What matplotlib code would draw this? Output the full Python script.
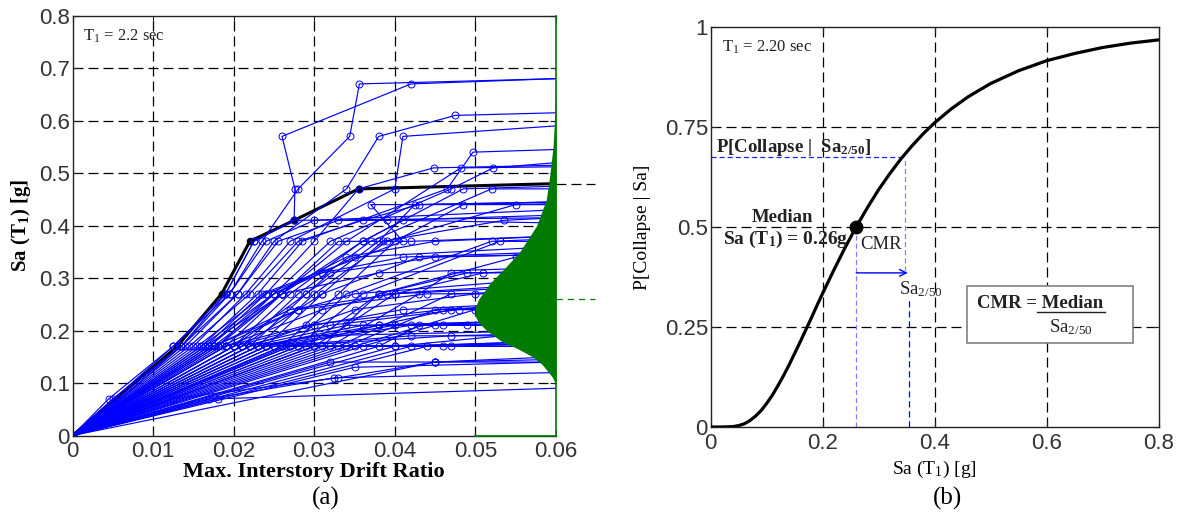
import matplotlib
matplotlib.use('Agg')
import matplotlib.pyplot as plt
import numpy as np

plt.rcParams['mathtext.fontset'] = 'custom'
plt.rcParams['mathtext.rm'] = 'Liberation Serif'
plt.rcParams['mathtext.it'] = 'Liberation Serif:italic'
plt.rcParams['mathtext.bf'] = 'Liberation Serif:bold'

SERIF = 'Liberation Serif'
SANS = 'Liberation Sans'
TICKC = '#333333'

# ---------------- Panel (a): IDA curves ----------------
ida_drift = [
    [0, .0045, .0125, .019, .0225, .0275, .0276, .026, .042, .06],
    [0, .005, .0135, .0195, .0235, .028, .0344, .0356, .06],
    [0, .014, .0205, .025, .034, .038, .0475, .06],
    [0, .015, .0215, .027, .040, .041, .06],
    [0, .016, .023, .0285, .0465, .0497, .06],
    [0, .017, .024, .030, .0355, .0448, .06],
    [0, .018, .025, .032, .047, .0522, .06],
    [0, .019, .026, .034, .0482, .06],
    [0, .020, .027, .036, .0485, .06],
    [0, .021, .028, .037, .052, .06],
    [0, .022, .029, .038, .0425, .06],
    [0, .023, .030, .039, .055, .06],
    [0, .0165, .0235, .041, .037, .06],
    [0, .024, .031, .0385, .0535, .06],
    [0, .006, .0135, .019, .0225, .0275, .06],
    [0, .0175, .026, .036, .041, .06],
    [0, .026, .033, .040, .0485, .06],
    [0, .027, .034, .052, .06],
    [0, .028, .036, .053, .06],
    [0, .020, .029, .032, .045, .06],
    [0, .029, .038, .055, .06],
    [0, .021, .031, .043, .06],
    [0, .030, .040, .051, .06],
    [0, .031, .038, .049, .06],
    [0, .032, .043, .047, .06],
    [0, .022, .035, .050, .06],
    [0, .033, .047, .06],
    [0, .034, .045, .06],
    [0, .035, .050, .06],
    [0, .023, .038, .047, .06],
    [0, .036, .045, .06],
    [0, .024, .040, .06],
    [0, .038, .043, .06],
    [0, .025, .042, .06],
    [0, .040, .06],
    [0, .026, .047, .06],
    [0, .042, .06],
    [0, .030, .06],
    [0, .044, .06],
    [0, .0125, .033, .045, .06],
    [0, .045, .06],
    [0, .017, .0325, .06],
    [0, .018, .06],
    [0, .035, .06],
    [0, .0155, .024, .031, .041, .06],
    [0, .016, .025, .034, .045, .06],
    [0, .0165, .026, .038, .06],
    [0, .0175, .027, .040, .06],
    [0, .0185, .028, .044, .06],
    [0, .019, .029, .046, .06],
    [0, .020, .030, .041, .06],
    [0, .021, .032, .048, .06],
    [0, .022, .034, .046, .06],
    [0, .023, .036, .06],
    [0, .024, .030, .06],
    [0, .025, .042, .06],
    [0, .0265, .040, .06],
    [0, .028, .046, .06],
    [0, .030, .047, .06],
    [0, .032, .045, .06],
    [0, .0145, .022, .028, .036, .043, .06],
    [0, .0135, .0205, .0255, .033, .039, .06],
    [0, .018, .026, .033, .042, .06],
    [0, .017, .025, .031, .035, .06],
    [0, .019, .031, .039, .06],
    [0, .027, .038, .049, .06],
    [0, .0175, .028, .035, .06],
    [0, .0125, .0195, .024, .030, .06],
]
ida_sa = [
    [0, .07, .17, .27, .37, .41, .47, .57, .67, .68],
    [0, .07, .17, .27, .37, .47, .57, .67, .68],
    [0, .17, .27, .37, .47, .57, .61, .615],
    [0, .17, .27, .37, .47, .57, .59],
    [0, .17, .27, .37, .47, .54, .545],
    [0, .17, .27, .37, .47, .51, .515],
    [0, .17, .27, .37, .47, .51, .52],
    [0, .17, .27, .37, .51, .512],
    [0, .17, .27, .37, .47, .475],
    [0, .17, .27, .37, .47, .47],
    [0, .17, .27, .37, .44, .445],
    [0, .17, .27, .37, .44, .442],
    [0, .17, .27, .37, .44, .44],
    [0, .17, .27, .37, .41, .415],
    [0, .07, .17, .27, .37, .41, .415],
    [0, .17, .27, .37, .41, .405],
    [0, .17, .27, .37, .44, .445],
    [0, .17, .27, .37, .375],
    [0, .17, .27, .37, .37],
    [0, .17, .27, .31, .34, .345],
    [0, .17, .27, .34, .342],
    [0, .17, .27, .34, .345],
    [0, .17, .27, .31, .315],
    [0, .17, .27, .31, .312],
    [0, .17, .27, .31, .31],
    [0, .17, .24, .27, .28],
    [0, .17, .27, .275],
    [0, .17, .24, .25],
    [0, .17, .24, .245],
    [0, .17, .21, .24, .24],
    [0, .17, .21, .225],
    [0, .17, .21, .22],
    [0, .17, .21, .215],
    [0, .17, .21, .21],
    [0, .17, .20],
    [0, .17, .19, .195],
    [0, .17, .18],
    [0, .17, .175],
    [0, .17, .17],
    [0, .07, .11, .14, .15],
    [0, .14, .14],
    [0, .07, .11, .12],
    [0, .07, .09],
    [0, .13, .14],
    [0, .17, .27, .31, .34, .35],
    [0, .17, .27, .34, .37, .38],
    [0, .17, .27, .31, .32],
    [0, .17, .24, .27, .285],
    [0, .17, .24, .27, .27],
    [0, .17, .21, .24, .25],
    [0, .17, .21, .24, .255],
    [0, .17, .21, .24, .24],
    [0, .17, .21, .21, .215],
    [0, .17, .21, .22],
    [0, .17, .19, .20],
    [0, .17, .19, .19],
    [0, .17, .17, .18],
    [0, .17, .17, .175],
    [0, .17, .17, .17],
    [0, .14, .14, .145],
    [0, .17, .27, .37, .41, .44, .445],
    [0, .17, .27, .37, .41, .41, .42],
    [0, .17, .27, .37, .37, .38],
    [0, .17, .27, .31, .34, .36],
    [0, .17, .24, .27, .29],
    [0, .17, .21, .21, .22],
    [0, .17, .24, .27, .30],
    [0, .17, .27, .37, .41, .43],
]
median_drift = [0, .013, .0185, .022, .0275, .0355, .06]
median_sa = [0, .17, .27, .37, .41, .47, .48]

# collapse-capacity distribution (drawn leftwards from drift = 0.06)
pdf_sa = [.09, .10, .11, .12, .135, .15, .165, .18, .20, .215, .23, .245, .26,
          .29, .32, .35, .40, .45, .50, .55, .60, .65, .70]
pdf_width = [0, .0001, .0004, .0009, .0017, .0029, .0047, .0068, .0086, .0096,
             .0101, .0100, .0096, .0082, .0063, .0045, .0024, .0012, .00074,
             .00037, .00019, .00006, 0]
pdf_median_sa = 0.26
top_ref_sa = 0.48

a_xticks = [0, .01, .02, .03, .04, .05, .06]
a_xticklabels = ['0', '0.01', '0.02', '0.03', '0.04', '0.05', '0.06']
a_yticks = [0, .1, .2, .3, .4, .5, .6, .7, .8]
a_yticklabels = ['0', '0.1', '0.2', '0.3', '0.4', '0.5', '0.6', '0.7', '0.8']

# ---------------- Panel (b): fragility curve ----------------
frag_sa = [0, .02, .04, .05, .06, .07, .08, .09, .10, .11, .12, .13, .14, .15,
           .16, .17, .18, .19, .20, .22, .24, .26, .28, .30, .32, .34, .36,
           .38, .40, .43, .46, .50, .55, .60, .65, .70, .75, .80]
frag_p = [0, 0, .001, .0035, .008, .016, .027, .041, .059, .079, .103, .128,
          .155, .184, .213, .243, .273, .304, .334, .392, .448, .50, .548,
          .593, .633, .670, .703, .733, .760, .795, .825, .858, .890, .915,
          .933, .948, .959, .967]
sa_median = 0.26
sa_2_50 = 0.347
p_2_50 = 0.674

b_xticks = [0, .2, .4, .6, .8]
b_xticklabels = ['0', '0.2', '0.4', '0.6', '0.8']
b_yticks = [0, .25, .5, .75, 1]
b_yticklabels = ['0', '0.25', '0.5', '0.75', '1']

W, H = 1181, 514
fig = plt.figure(figsize=(W / 100, H / 100), dpi=100)

DASH = (0, (8, 4))

def style_axes(ax, xt, xtl, yt, ytl):
    ax.set_xticks(xt)
    ax.set_xticklabels(xtl)
    ax.set_yticks(yt)
    ax.set_yticklabels(ytl)
    ax.tick_params(direction='in', length=4, width=0.8, top=True, right=True,
                   labelsize=16, labelcolor=TICKC, color='#222222')
    ax.tick_params(axis='x', pad=4)
    ax.tick_params(axis='y', pad=2)
    for lab in ax.get_xticklabels() + ax.get_yticklabels():
        lab.set_fontfamily(SANS)
    for sp in ax.spines.values():
        sp.set_color('#222222')
        sp.set_linewidth(1.0)

# ---------- (a) ----------
axa = fig.add_axes([72.5 / W, 1 - 435.5 / H, (556 - 72.5) / W, (435.5 - 15.7) / H])
axa.set_xlim(0, 0.06)
axa.set_ylim(0, 0.8)
style_axes(axa, a_xticks, a_xticklabels, a_yticks, a_yticklabels)

for x in a_xticks[1:-1]:
    axa.axvline(x, color='k', lw=0.9, ls=DASH, zorder=0.5)
for y in a_yticks[1:-1]:
    axa.axhline(y, color='k', lw=0.9, ls=DASH, zorder=0.5)

axa.plot(median_drift, median_sa, color='k', lw=2.2, zorder=1.8)
axa.plot(median_drift[1:-1], median_sa[1:-1], 'o', color='k', ms=4.5, zorder=1.8)

for d, s in zip(ida_drift, ida_sa):
    axa.plot(d, s, color='#0000ff', lw=0.85, zorder=2)
    axa.plot(d[:-1], s[:-1], 'o', mfc='none', mec='#0000ff', ms=5, mew=0.7, zorder=2)

green = '#007a00'
axa.fill_betweenx(pdf_sa, 0.06 - np.array(pdf_width), 0.06, color=green, lw=0, zorder=3)
axa.plot([0.06, 0.06], [0, 0.8], color=green, lw=1.2, zorder=3.5, clip_on=False)
axa.plot([0.05, 0.06], [0, 0], color=green, lw=1.2, zorder=3.5, clip_on=False)
axa.spines['right'].set_visible(False)
axa.plot([0.06, 0.0648], [top_ref_sa, top_ref_sa], color='k', lw=0.9, ls=DASH,
         clip_on=False, zorder=3)
axa.plot([0.06, 0.0648], [pdf_median_sa, pdf_median_sa], color=green, lw=0.9,
         ls=(0, (5, 4)), clip_on=False, zorder=3)

axa.text(0.0013, 0.761, r'T$_1$ = 2.2 sec', family=SERIF, fontsize=12,
         va='center', ha='left', color='#222222')
axa.set_xlabel('Max. Interstory Drift Ratio', family=SERIF, fontsize=16,
               fontweight='bold', labelpad=0)
axa.set_ylabel(r'Sa (T$_\mathbf{1}$) [g]', family=SERIF, fontsize=15,
               fontweight='bold', labelpad=4)

# ---------- (b) ----------
axb = fig.add_axes([710.7 / W, 1 - 427 / H, (1158.5 - 710.7) / W, (427 - 26.7) / H])
axb.set_xlim(0, 0.8)
axb.set_ylim(0, 1)
style_axes(axb, b_xticks, b_xticklabels, b_yticks, b_yticklabels)
for x in b_xticks[1:-1]:
    axb.axvline(x, color='k', lw=0.9, ls=DASH, zorder=0.5)
for y in b_yticks[1:-1]:
    axb.axhline(y, color='k', lw=0.9, ls=DASH, zorder=0.5)

axb.plot([0, sa_2_50], [p_2_50, p_2_50], color='#2020ff', lw=0.9, ls=(0, (4, 2.5)), zorder=1)
axb.plot([sa_2_50, sa_2_50], [0.39, p_2_50], color='#7f7fff', lw=0.9, ls=(0, (4, 2.5)), zorder=1)
axb.plot([sa_median, sa_median], [0, 0.48], color='#7f7fff', lw=0.9, ls=(0, (4, 2.5)), zorder=1)
axb.plot([0.355, 0.355], [0, 0.317], color='#0000ff', lw=0.9, ls=(0, (5, 3)), zorder=1)
axb.annotate('', xy=(0.352, 0.385), xytext=(sa_median, 0.385),
             arrowprops=dict(arrowstyle='->', color='#0000ff', lw=1.0,
                             shrinkA=0, shrinkB=0, mutation_scale=12))

axb.plot(frag_sa, frag_p, color='k', lw=2.3, zorder=3, solid_capstyle='round')
axb.plot([sa_median], [0.5], 'o', color='k', ms=9, zorder=4)

axb.text(0.02, 0.948, r'T$_1$ = 2.20 sec', family=SERIF, fontsize=12,
         va='center', ha='left', color='#222222')
axb.text(0.01, 0.699, r'P[Collapse |  Sa$_\mathbf{2/50}$]', family=SERIF, fontsize=13.5,
         fontweight='bold', va='center', ha='left', color='#222222')
axb.text(0.129, 0.524, 'Median', family=SERIF, fontsize=13.5, fontweight='bold',
         va='center', ha='center', color='#222222')
axb.text(0.022, 0.468, r'Sa (T$_\mathbf{1}$) = 0.26g', family=SERIF, fontsize=14,
         fontweight='bold', va='center', ha='left', color='#222222')
axb.text(0.268, 0.456, 'CMR', family=SERIF, fontsize=13.5, va='center', ha='left',
         color='#222222')
axb.text(0.336, 0.345, r'Sa$_{2/50}$', family=SERIF, fontsize=13.5, va='center',
         ha='left', color='#222222')

# CMR box
box = plt.Rectangle((0.457, 0.211), 0.298, 0.141, facecolor='white',
                    edgecolor='#808080', lw=1.2, zorder=5)
axb.add_patch(box)
axb.text(0.475, 0.3085, 'CMR = Median', family=SERIF, fontsize=13.5,
         fontweight='bold', va='center', ha='left', color='#222222', zorder=6)
axb.plot([0.583, 0.705], [0.287, 0.287], color='#222222', lw=1.0, zorder=6)
axb.text(0.6045, 0.249, r'Sa$_{2/50}$', family=SERIF, fontsize=13.5, va='center',
         ha='left', color='#222222', zorder=6)

axb.set_xlabel(r'Sa (T$_1$) [g]', family=SERIF, fontsize=14, labelpad=4)
axb.set_ylabel('P[Collapse | Sa]', family=SERIF, fontsize=14, labelpad=10)

fig.text(326 / W, 1 - 498 / H, '(a)', family=SERIF, fontsize=18, ha='center', va='center')
fig.text(948 / W, 1 - 498 / H, '(b)', family=SERIF, fontsize=18, ha='center', va='center')

fig.savefig('out.png', dpi=100)
